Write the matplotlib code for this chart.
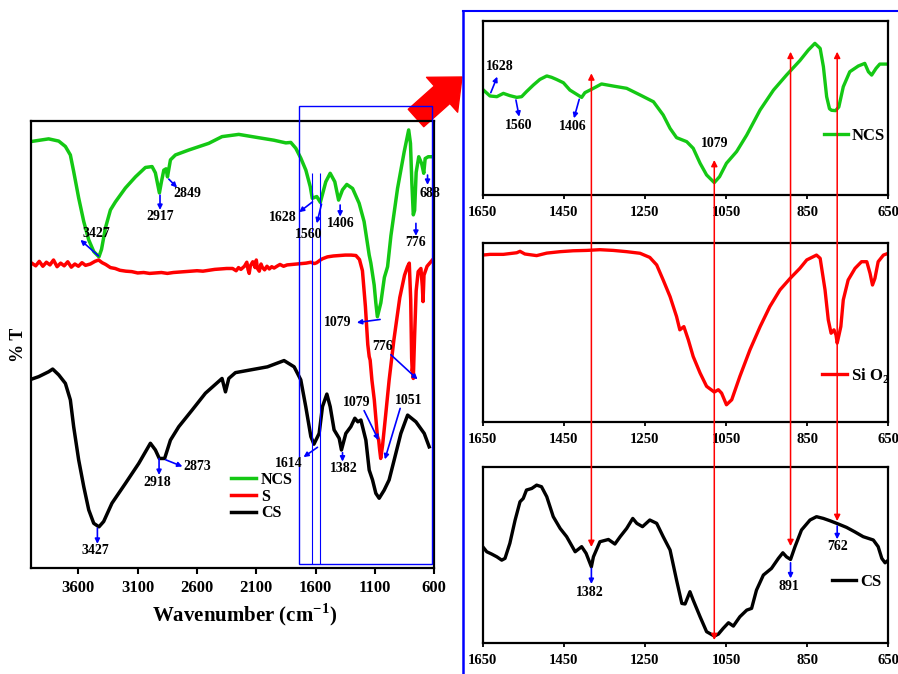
import matplotlib
matplotlib.use("Agg")
import matplotlib.pyplot as plt
from matplotlib.patches import Rectangle, ConnectionPatch
from matplotlib.lines import Line2D

plt.rcParams['font.family'] = ['Liberation Serif', 'DejaVu Serif']
plt.rcParams['font.weight'] = 'bold'
plt.rcParams['mathtext.fontset'] = 'custom'
plt.rcParams['mathtext.rm'] = 'Liberation Serif:bold'
plt.rcParams['mathtext.bf'] = 'Liberation Serif:bold'

GREEN = '#14c814'
RED = '#ff0000'
BLUE = '#0000ff'

# ---- full range spectra (4000-600 cm-1), %T with vertical offsets ----
ncs_wn = [4000, 3851, 3766, 3710, 3668, 3640, 3598, 3555, 3513, 3471, 3427,
          3405, 3372, 3330, 3288, 3204, 3119, 3035, 2979, 2951, 2917, 2900,
          2880, 2861, 2849, 2824, 2782, 2670, 2501, 2389, 2248, 2090, 1952,
          1851, 1809, 1767, 1725, 1682, 1645, 1628, 1590, 1560, 1514, 1477,
          1438, 1406, 1373, 1337, 1288, 1233, 1191, 1148, 1134, 1106, 1092,
          1079, 1050, 1020, 993, 965, 909, 853, 815, 800, 788, 776, 765, 752,
          730, 706, 688, 676, 650, 614]
ncs_t = [95.4, 96.0, 95.5, 94.3, 92.4, 88.7, 82.8, 77.5, 73.4, 70.8, 69.6,
         71.3, 76.1, 80.1, 81.9, 85.0, 87.5, 89.6, 89.8, 88.4, 83.9, 86.4,
         89.0, 89.3, 87.5, 91.3, 92.4, 93.5, 95.0, 96.5, 97.0, 96.3, 95.7,
         95.1, 95.2, 93.9, 91.7, 89.0, 85.3, 82.7, 83.1, 81.8, 86.4, 88.3,
         86.4, 82.3, 84.6, 85.8, 84.9, 81.6, 77.5, 70.0, 68.2, 63.3, 59.3,
         56.2, 59.3, 65.0, 67.4, 74.3, 84.9, 93.1, 98.0, 95.0, 86.0, 79.0,
         80.0, 88.5, 92.0, 90.5, 88.3, 91.6, 92.0, 92.0]

s_wn = [4000, 3960, 3930, 3900, 3870, 3840, 3810, 3780, 3750, 3720, 3690,
        3660, 3630, 3600, 3570, 3540, 3500, 3460, 3430, 3400, 3370, 3330,
        3290, 3250, 3200, 3150, 3100, 3050, 3000, 2950, 2900, 2850, 2800,
        2750, 2700, 2650, 2600, 2550, 2500, 2450, 2400, 2350, 2300, 2270,
        2250, 2230, 2200, 2180, 2170, 2160, 2150, 2130, 2110, 2100, 2090,
        2075, 2060, 2050, 2030, 2010, 1990, 1970, 1950, 1920, 1900, 1870,
        1840, 1800, 1760, 1720, 1680, 1640, 1610, 1590, 1560, 1540, 1500,
        1450, 1400, 1350, 1300, 1260, 1230, 1205, 1180, 1160, 1148, 1140,
        1125, 1105, 1079, 1068, 1060, 1051, 1035, 1010, 980, 940, 890, 850,
        825, 810, 798, 790, 785, 780, 776, 765, 752, 735, 712, 700, 694,
        686, 660, 615]
s_t = [68.3, 67.6, 68.6, 67.5, 68.4, 67.8, 68.9, 67.4, 68.2, 67.6, 68.5,
       67.3, 68.0, 67.5, 68.3, 67.7, 68.0, 68.6, 68.9, 68.3, 67.9, 67.2,
       67.0, 66.6, 66.4, 66.3, 66.0, 66.1, 65.9, 66.0, 66.1, 65.9, 66.1,
       66.2, 66.3, 66.4, 66.5, 66.4, 66.6, 66.8, 66.9, 67.0, 67.0, 66.5,
       67.2, 66.8, 67.5, 68.4, 66.8, 65.9, 67.6, 68.5, 67.2, 68.9, 67.0,
       66.4, 68.0, 67.3, 66.7, 67.5, 66.9, 67.4, 67.1, 67.6, 67.9, 67.5,
       67.8, 67.9, 68.0, 68.1, 68.2, 68.4, 68.1, 68.3, 68.9, 69.2, 69.6,
       69.8, 69.9, 70.0, 70.0, 69.9, 69.0, 66.5, 58.5, 50.0, 47.3, 46.5,
       42.0, 37.6, 29.5, 28.6, 26.5, 24.5, 27.5, 34.0, 42.0, 51.0, 60.5,
       65.5, 67.4, 68.2, 60.0, 47.0, 44.0, 45.0, 42.4, 52.0, 62.0, 66.3,
       67.0, 63.0, 59.6, 65.5, 67.5, 68.9]

cs_wn = [4000, 3935, 3851, 3817, 3766, 3710, 3668, 3640, 3598, 3555, 3513,
         3471, 3427, 3387, 3317, 3204, 3091, 2993, 2951, 2918, 2873, 2824,
         2754, 2642, 2529, 2389, 2360, 2332, 2276, 2006, 1866, 1781, 1725,
         1683, 1640, 1614, 1570, 1542, 1505, 1477, 1444, 1401, 1382, 1345,
         1303, 1269, 1244, 1218, 1176, 1148, 1120, 1092, 1064, 1022, 980,
         937, 881, 824, 754, 684, 642]
cs_t = [42.2, 42.8, 43.9, 44.5, 43.2, 41.3, 37.6, 31.6, 24.2, 18.2, 13.0,
        10.0, 9.2, 10.4, 14.5, 18.9, 23.4, 27.9, 26.4, 24.5, 24.5, 28.6,
        31.6, 35.3, 39.1, 42.4, 39.4, 42.4, 43.7, 45.0, 46.4, 45.0, 42.1,
        36.1, 29.4, 27.7, 30.1, 36.1, 38.9, 36.1, 30.9, 29.0, 26.4, 30.1,
        31.6, 33.5, 32.7, 33.1, 28.6, 21.9, 19.7, 16.7, 15.6, 17.4, 19.7,
        24.2, 30.1, 34.2, 32.7, 30.1, 27.1]

# ---- expanded region 1650-650 cm-1 ----
ncs_z_wn = [1650, 1632, 1615, 1599, 1583, 1566, 1554, 1542, 1525, 1509, 1492,
            1480, 1468, 1451, 1435, 1406, 1398, 1377, 1357, 1328, 1295, 1262,
            1229, 1205, 1188, 1172, 1147, 1131, 1114, 1098, 1079, 1066, 1049,
            1024, 999, 966, 933, 901, 868, 847, 831, 818, 810, 802, 795, 790,
            780, 772, 761, 745, 724, 708, 699, 691, 680, 671, 650]
ncs_z_t = [60.6, 56.8, 56.4, 58.3, 57.0, 56.0, 56.4, 59.3, 63.1, 66.3, 68.3,
           67.5, 66.3, 64.4, 60.2, 56.0, 58.7, 61.2, 63.7, 62.5, 61.2, 57.4,
           53.5, 45.9, 38.2, 32.9, 30.6, 26.8, 18.2, 11.5, 7.1, 10.5, 18.2,
           24.9, 34.4, 48.8, 60.2, 68.8, 77.1, 83.2, 87.0, 84.1, 73.6, 56.4,
           49.5, 48.6, 48.4, 50.5, 62.1, 70.7, 74.0, 75.5, 70.7, 68.8, 72.7,
           75.1, 75.1]

sio2_z_wn = [1650, 1632, 1599, 1566, 1558, 1546, 1517, 1492, 1459, 1427, 1394,
             1361, 1328, 1295, 1262, 1238, 1221, 1205, 1188, 1172, 1164, 1154,
             1143, 1131, 1114, 1098, 1079, 1069, 1061, 1049, 1036, 1016, 991,
             966, 942, 917, 892, 868, 851, 827, 818, 806, 798, 791, 784, 779,
             776, 767, 761, 749, 732, 716, 703, 695, 689, 683, 675, 662, 650]
sio2_z_t = [93.1, 93.5, 93.5, 94.4, 95.2, 93.7, 92.8, 94.2, 95.0, 95.5, 95.7,
            96.1, 95.7, 95.0, 94.1, 91.8, 87.6, 79.2, 69.9, 58.8, 51.4, 53.2,
            45.8, 36.5, 27.3, 19.9, 16.7, 18.0, 16.1, 9.6, 12.4, 25.4, 40.3,
            53.2, 64.4, 73.7, 80.1, 85.7, 90.4, 93.1, 91.3, 73.7, 57.0, 49.5,
            51.4, 48.6, 44.0, 53.2, 68.1, 79.2, 85.7, 89.4, 89.4, 82.9, 76.4,
            80.1, 89.4, 93.1, 94.1]

cs_z_wn = [1650, 1640, 1628, 1615, 1603, 1595, 1583, 1570, 1558, 1550, 1542,
           1529, 1517, 1505, 1492, 1476, 1459, 1443, 1422, 1406, 1395, 1382,
           1377, 1361, 1340, 1324, 1311, 1295, 1280, 1270, 1256, 1238, 1221,
           1205, 1188, 1172, 1159, 1151, 1139, 1131, 1114, 1098, 1079, 1069,
           1057, 1044, 1032, 1016, 999, 987, 975, 958, 938, 921, 910, 901,
           891, 880, 864, 843, 827, 810, 794, 773, 753, 733, 712, 687, 675,
           666, 658, 650]
cs_z_t = [54.8, 51.9, 50.6, 49.0, 47.1, 48.1, 56.7, 70.0, 80.4, 82.3, 87.1,
          88.0, 89.9, 89.0, 83.3, 71.9, 65.2, 60.5, 51.9, 54.8, 51.0, 43.3,
          49.0, 57.6, 58.9, 56.3, 60.5, 65.2, 70.9, 68.1, 66.2, 70.0, 68.1,
          60.5, 52.9, 35.7, 22.4, 22.1, 29.1, 24.3, 14.8, 6.3, 3.8, 4.9,
          8.2, 11.4, 9.5, 14.8, 18.6, 19.6, 30.0, 38.6, 42.4, 48.1, 51.3,
          49.0, 47.5, 54.8, 64.3, 70.0, 71.9, 70.9, 69.6, 67.7, 65.8, 63.3,
          60.5, 58.6, 54.8, 48.1, 45.6, 47.1]

main_ticks = [3600, 3100, 2600, 2100, 1600, 1100, 600]
zoom_ticks = [1650, 1450, 1250, 1050, 850, 650]
link_wn = [1382, 1079, 891, 776]


def peak(ax, label, txy, tail, head, fs=10):
    ax.annotate('', xy=head, xytext=tail,
                arrowprops=dict(arrowstyle='-|>', color=BLUE, lw=1.2,
                                mutation_scale=7, shrinkA=0, shrinkB=0))
    ax.text(txy[0], txy[1], label, ha='center', va='center',
            fontsize=fs, fontweight='bold', clip_on=False)


def frame(ax, lw=1.6):
    for sp in ax.spines.values():
        sp.set_linewidth(lw)
        sp.set_color('black')


fig = plt.figure(figsize=(8.98, 6.74), dpi=100)

# main panel
ax = fig.add_axes([0.0345, 0.1573, 0.449, 0.6632])
ax.plot(ncs_wn, ncs_t, color=GREEN, lw=2.5, label='NCS')
ax.plot(s_wn, s_t, color=RED, lw=2.5, label='S')
ax.plot(cs_wn, cs_t, color='black', lw=2.5, label='CS')
ax.set_xlim(4000, 600)
ax.set_ylim(0, 100)
ax.set_xticks(main_ticks)
ax.set_yticks([])
ax.tick_params(axis='x', direction='out', length=4, width=1.5, pad=5,
               labelsize=12)
for t in ax.get_xticklabels():
    t.set_fontweight('bold')
frame(ax)
ax.set_xlabel('Wavenumber (cm$^{-1}$)', fontsize=15, fontweight='bold')
ax.xaxis.set_label_coords(0.53, -0.075)
ax.set_ylabel('% T', fontsize=13, fontweight='bold', labelpad=3)
ax.legend(loc='upper left', bbox_to_anchor=(0.495, 0.215), frameon=False,
          fontsize=11.5, handlelength=1.6, handletextpad=0.3,
          labelspacing=0.05, borderpad=0, borderaxespad=0)

# selection box around the fingerprint region
ax.add_patch(Rectangle((617, 0.9), 1119, 102.5, fill=False, edgecolor=BLUE,
                       lw=1.0, clip_on=False, zorder=3))
ax.vlines([1628, 1560], 0.9, 88.4, colors=BLUE, lw=0.8, zorder=3)

peak(ax, '3427', (3449, 74.9), (3430, 69.8), (3583, 73.4))
peak(ax, '2917', (2908, 78.6), (2912, 83.4), (2912, 80.1))
peak(ax, '2849', (2684, 83.7), (2838, 87.0), (2768, 85.1))
peak(ax, '1628', (1879, 78.5), (1626, 81.9), (1739, 79.6))
peak(ax, '1560', (1655, 74.7), (1550, 81.4), (1590, 77.1))
peak(ax, '1406', (1387, 77.1), (1393, 81.2), (1393, 78.6))
peak(ax, '776', (754, 72.9), (754, 77.1), (754, 74.3))
peak(ax, '688', (634, 83.8), (656, 87.9), (656, 85.7))
peak(ax, '1079', (1415, 54.9), (1056, 55.6), (1252, 54.9))
peak(ax, '776', (1035, 49.5), (965, 47.7), (740, 42.2))
peak(ax, '1079', (1252, 37.1), (1191, 35.2), (1069, 28.6))
peak(ax, '1051', (811, 37.4), (887, 35.7), (1016, 24.3))
peak(ax, '1614', (1823, 23.4), (1584, 27.0), (1702, 24.8))
peak(ax, '1382', (1359, 22.3), (1373, 25.8), (1373, 23.8))
peak(ax, '2918', (2934, 19.1), (2920, 24.5), (2920, 20.8))
peak(ax, '2873', (2596, 22.7), (2864, 24.2), (2723, 22.7))
peak(ax, '3427', (3454, 3.9), (3440, 8.9), (3440, 5.4))

# expanded panels
ax1 = fig.add_axes([0.5375, 0.7107, 0.4517, 0.2586])
ax2 = fig.add_axes([0.5375, 0.3739, 0.4517, 0.2660])
ax3 = fig.add_axes([0.5375, 0.0464, 0.4517, 0.2601])
ax1.plot(ncs_z_wn, ncs_z_t, color=GREEN, lw=2.4, label='NCS')
ax2.plot(sio2_z_wn, sio2_z_t, color=RED, lw=2.4, label='Si O$_2$')
ax3.plot(cs_z_wn, cs_z_t, color='black', lw=2.4, label='CS')
for a in (ax1, ax2, ax3):
    a.set_xlim(1650, 650)
    a.set_ylim(0, 100)
    a.set_xticks(zoom_ticks)
    a.set_yticks([])
    a.tick_params(axis='x', direction='out', length=3, width=1.3, pad=5,
                  labelsize=10.5)
    for t in a.get_xticklabels():
        t.set_fontweight('bold')
    frame(a)

ax1.legend(loc='center left', bbox_to_anchor=(0.842, 0.34), frameon=False,
           fontsize=12, handlelength=1.4, handletextpad=0.25,
           borderpad=0, borderaxespad=0)
ax2.legend(loc='center left', bbox_to_anchor=(0.837, 0.262), frameon=False,
           fontsize=12, handlelength=1.5, handletextpad=0.25,
           borderpad=0, borderaxespad=0)
ax3.legend(loc='center left', bbox_to_anchor=(0.861, 0.348), frameon=False,
           fontsize=12, handlelength=1.45, handletextpad=0.25,
           borderpad=0, borderaxespad=0)

peak(ax1, '1628', (1607, 73.6), (1630, 58.7), (1614, 67.9))
peak(ax1, '1560', (1562, 39.6), (1568, 54.5), (1560, 44.9))
peak(ax1, '1406', (1427, 39.2), (1412, 54.9), (1425, 44.0))
ax1.text(1079, 29.3, '1079', ha='center', va='center', fontsize=10,
         fontweight='bold')
peak(ax3, '1382', (1385, 28.5), (1382, 42.4), (1382, 33.5))
peak(ax3, '891', (894, 32.3), (891, 45.6), (891, 36.7))
peak(ax3, '762', (775, 54.8), (776, 66.6), (776, 59.0))

# red guide arrows linking bands across the three expanded panels
top_y = [69.8, 20.1, 82.2, 82.2]
bot_y = [54.6, 1.5, 55.1, 69.4]
for wn, yt, yb in zip(link_wn, top_y, bot_y):
    con = ConnectionPatch(xyA=(wn, yb), coordsA=ax3.transData,
                          xyB=(wn, yt), coordsB=ax1.transData,
                          arrowstyle='<|-|>', color=RED, lw=1.1,
                          mutation_scale=9, shrinkA=0, shrinkB=0, zorder=5)
    fig.add_artist(con)

# blue frame around the expanded panels
fig.add_artist(Line2D([463 / 898, 463 / 898], [0, 663 / 674],
                      transform=fig.transFigure, color=BLUE, lw=1.8))
fig.add_artist(Line2D([463 / 898, 1.0], [663 / 674, 663 / 674],
                      transform=fig.transFigure, color=BLUE, lw=1.5))

# big red pointer from the box to the expanded panels
ax.annotate('', xy=(462, 597), xycoords='figure pixels',
            xytext=(416, 556), textcoords='figure pixels',
            arrowprops=dict(arrowstyle='simple,head_length=0.8,head_width=1.4,tail_width=0.7',
                            color=RED, mutation_scale=24, shrinkA=0, shrinkB=0),
            annotation_clip=False, zorder=1)

fig.savefig('out.png', dpi=100)
